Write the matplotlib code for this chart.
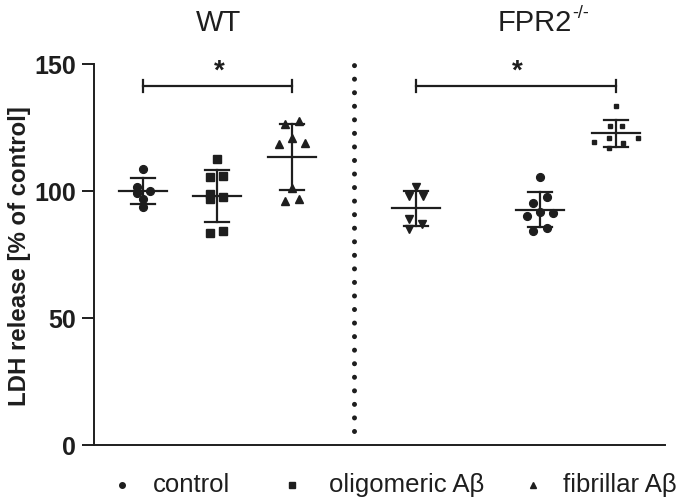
import matplotlib
matplotlib.use("Agg")
import matplotlib.pyplot as plt
import numpy as np

plt.rcParams['font.family'] = ['Liberation Sans', 'DejaVu Sans']

INK = "#1e1e1e"
W, H = 685, 502

# group positions on the x axis (WT: control, oligo, fibrillar | FPR2-/-: ...)
positions = [1.0, 2.0, 3.0, 4.66, 6.33, 7.34]
divider_x = 3.83

# values (% of control)
wt_control = [108.6, 101.7, 99.1, 100.0, 96.7, 93.8]
wt_oligo = [112.5, 105.3, 105.9, 98.9, 96.7, 97.6, 83.2, 84.0]
wt_fibril = [126.3, 127.6, 118.4, 120.7, 118.7, 101.3, 96.1, 96.7]
ko_control = [101.7, 98.0, 98.0, 88.8, 87.1, 84.9]
ko_oligo = [105.5, 95.1, 97.6, 90.1, 91.8, 91.4, 84.2, 85.3]
ko_fibril = [133.6, 125.7, 125.7, 119.3, 120.7, 118.7, 120.7, 116.7]

# horizontal scatter offsets of the points (in pixels, as seen in the picture)
wt_control_dx = [0, -6, -6, 7, 0, 0]
wt_oligo_dx = [0, -7, 6, -7, -7, 6, -7, 6]
wt_fibril_dx = [-7, 7, -13, 0, 13, 0, -7, 7]
ko_control_dx = [0, -7, 7, -7, 6, -7]
ko_oligo_dx = [0, -7, 7, -13, 0, 13, -7, 7]
ko_fibril_dx = [0, -6, 6, -22, -7, 7, 22, -7]

groups = [
    (wt_control, wt_control_dx, "o", 5.6),
    (wt_oligo, wt_oligo_dx, "s", 5.2),
    (wt_fibril, wt_fibril_dx, "^", 6.2),
    (ko_control, ko_control_dx, "v", 6.2),
    (ko_oligo, ko_oligo_dx, "o", 5.6),
    (ko_fibril, ko_fibril_dx, "s", 2.6),
]

legend_labels = ["control", "oligomeric A\u03b2", "fibrillar A\u03b2"]
legend_markers = ["o", "s", "^"]
legend_marker_px = [122, 292, 533]
legend_text_px = [153, 329, 563]

PX = 1 / 74.5  # one pixel in x data units

fig = plt.figure(figsize=(W / 100, H / 100), dpi=100)
ax = fig.add_axes([94.3 / W, 1 - 445.5 / H, 570.7 / W, 380.5 / H])

for pos, (vals, dx, mk, ms) in zip(positions, groups):
    vals = np.array(vals)
    xs = pos + np.array(dx) * PX
    ax.plot(xs, vals, linestyle="none", marker=mk, ms=ms, color=INK, mec=INK, zorder=3)
    m = vals.mean()
    sd = vals.std(ddof=1)
    ax.plot([pos - 24 * PX, pos + 24 * PX], [m, m], color=INK, lw=1.6, zorder=4)
    ax.plot([pos, pos], [m - sd, m + sd], color=INK, lw=1.6, zorder=4)
    for y in (m - sd, m + sd):
        ax.plot([pos - 12 * PX, pos + 12 * PX], [y, y], color=INK, lw=1.6, zorder=4)

# significance brackets
for a, b in [(positions[0], positions[2]), (positions[3], positions[5])]:
    yb = 141.3
    ax.plot([a, b], [yb, yb], color=INK, lw=1.6, clip_on=False)
    for x in (a, b):
        ax.plot([x, x], [yb - 2.4, yb + 2.4], color=INK, lw=1.6, clip_on=False)
    ax.text((a + b) / 2 + 0.02, 144.5, "*", ha="center", va="baseline",
            fontsize=20, fontweight="bold", color=INK)

# dotted divider
ax.plot([divider_x, divider_x], [5.3, 150], color=INK, lw=3.6,
        linestyle=(0, (0.01, 2.7)), dash_capstyle="round", clip_on=False)

ax.set_xlim(0.35, 8.0)
ax.set_ylim(0, 150)
ax.set_yticks([0, 50, 100, 150])
ax.set_xticks([])
for lab in ax.get_yticklabels():
    lab.set_fontweight("bold")
ax.tick_params(axis="y", length=9, width=1.4, pad=4, labelsize=18, colors=INK)
for s in ("top", "right"):
    ax.spines[s].set_visible(False)
for s in ("left", "bottom"):
    ax.spines[s].set_linewidth(1.4)
    ax.spines[s].set_color(INK)

ax.set_ylabel("LDH release [% of control]", fontsize=17.3, fontweight="bold",
              color=INK, va="center")
ax.yaxis.set_label_coords((20 - 94.3) / 570.7, (445.5 - 256) / 380.5)

# group titles
fig.text(219 / W, 1 - 23 / H, "WT", ha="center", va="center", fontsize=21, color=INK)
fig.text(498 / W, 1 - 23 / H, "FPR2", ha="left", va="center", fontsize=21, color=INK)
fig.text(572 / W, 1 - 13 / H, "-/-", ha="left", va="center", fontsize=13, color=INK)

# legend row under the axis
for mk, mx, tx, lab in zip(legend_markers, legend_marker_px, legend_text_px, legend_labels):
    fig.add_artist(plt.Line2D([mx / W], [1 - 486 / H], linestyle="none", marker=mk,
                              ms=4, color=INK, transform=fig.transFigure))
    fig.text(tx / W, 1 - 485 / H, lab, ha="left", va="center", fontsize=18.5, color=INK)

fig.savefig("out.png", dpi=100)
